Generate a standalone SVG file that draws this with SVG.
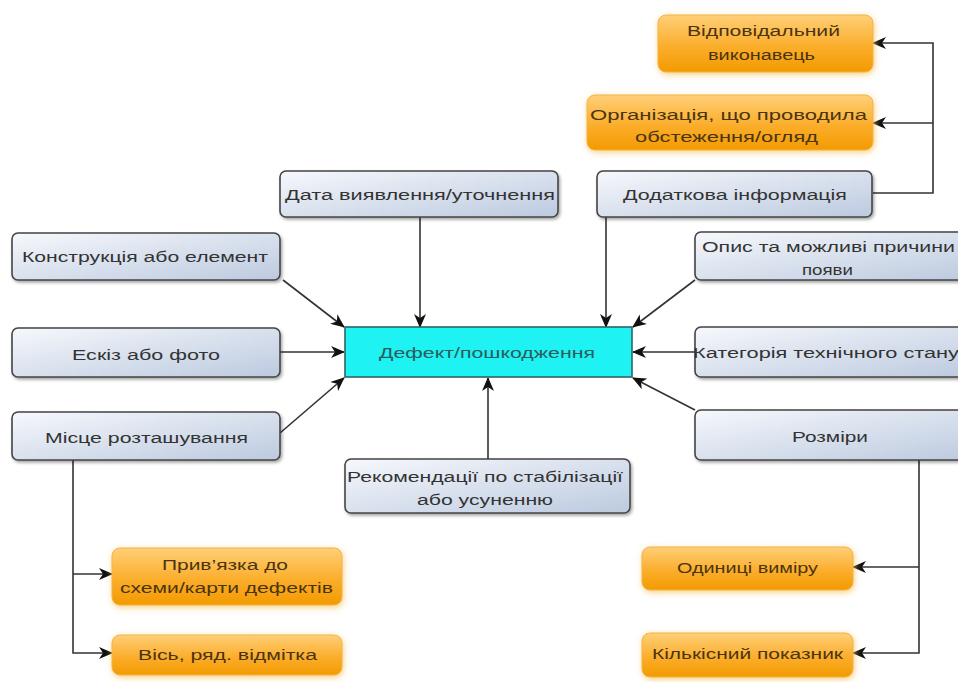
<svg xmlns="http://www.w3.org/2000/svg" width="958" height="682" viewBox="0 0 958 682">
<defs>
<linearGradient id="gb" x1="0" y1="0" x2="1" y2="1">
<stop offset="0" stop-color="#f6f8fc"/>
<stop offset="1" stop-color="#bccadf"/>
</linearGradient>
<linearGradient id="go" x1="0" y1="0" x2="0" y2="1">
<stop offset="0" stop-color="#ffcf78"/>
<stop offset="0.55" stop-color="#fbae2c"/>
<stop offset="1" stop-color="#f39a00"/>
</linearGradient>
<filter id="sh" x="-10%" y="-20%" width="120%" height="150%">
<feDropShadow dx="1.5" dy="2" stdDeviation="1.5" flood-color="#000" flood-opacity="0.35"/>
</filter>
<filter id="glow" x="-10%" y="-30%" width="120%" height="160%">
<feGaussianBlur in="SourceAlpha" stdDeviation="3" result="b"/>
<feFlood flood-color="#f7c560" flood-opacity="0.8"/>
<feComposite in2="b" operator="in" result="g"/>
<feOffset in="g" dx="1" dy="2" result="go"/>
<feMerge><feMergeNode in="go"/><feMergeNode in="SourceGraphic"/></feMerge>
</filter>
<marker id="ar" viewBox="0 0 14 12" refX="13" refY="6" markerWidth="14" markerHeight="12" markerUnits="userSpaceOnUse" orient="auto">
<path d="M0,0 L14,6 L0,12 L4,6 z" fill="#111"/>
</marker>
<style>
.bn{fill:url(#gb);stroke:#444;stroke-width:1.6;filter:url(#sh)}
.on{fill:url(#go);stroke:#f3b24a;stroke-width:1;filter:url(#glow)}
.cn{fill:#1ef2f2;stroke:#2c6464;stroke-width:1.6}
text{font-family:"Liberation Sans",Arial,sans-serif;font-size:15.5px;text-anchor:start}
.tb{fill:#333}
.to{fill:#4a3410}
.tc{fill:#2a5c5c}
.ln{fill:none;stroke:#333;stroke-width:1.6;marker-end:url(#ar)}
.lp{fill:none;stroke:#333;stroke-width:1.6}
</style>
</defs>
<rect width="958" height="682" fill="#fff"/>
<g id="connectors">
<path class="ln" d="M420,217 V327"/>
<path class="ln" d="M606,217 V327"/>
<path class="ln" d="M283,280 L344,327"/>
<path class="ln" d="M280,352 H344"/>
<path class="ln" d="M280,433 L344,378"/>
<path class="ln" d="M488,459 V378"/>
<path class="ln" d="M695,280 L633,327"/>
<path class="ln" d="M695,352 H633"/>
<path class="ln" d="M695,410 L633,378"/>
<path class="ln" d="M873,193 H933 V43 H873"/>
<path class="ln" d="M933,123 H873"/>
<path class="ln" d="M73,460 V653 H112"/>
<path class="ln" d="M73,574 H112"/>
<path class="ln" d="M919,460 V653 H853"/>
<path class="ln" d="M919,567 H853"/>
</g>
<g id="n_center"><rect class="cn" x="345" y="327" width="287" height="50"/><text class="tc" x="379" y="358" textLength="216" lengthAdjust="spacingAndGlyphs">Дефект/пошкодження</text></g>
<g id="n_data"><rect class="bn" x="280" y="171" width="278" height="46" rx="6"/><text class="tb" x="285" y="200" textLength="270" lengthAdjust="spacingAndGlyphs">Дата виявлення/уточнення</text></g>
<g id="n_dodatkova"><rect class="bn" x="597" y="171" width="275" height="46" rx="6"/><text class="tb" x="623" y="200" textLength="224" lengthAdjust="spacingAndGlyphs">Додаткова інформація</text></g>
<g id="n_konstr"><rect class="bn" x="12" y="233" width="268" height="47" rx="6"/><text class="tb" x="22" y="262" textLength="246" lengthAdjust="spacingAndGlyphs">Конструкція або елемент</text></g>
<g id="n_eskiz"><rect class="bn" x="12" y="328" width="268" height="49" rx="6"/><text class="tb" x="72" y="360" textLength="148" lengthAdjust="spacingAndGlyphs">Ескіз або фото</text></g>
<g id="n_misce"><rect class="bn" x="12" y="412" width="268" height="48" rx="6"/><text class="tb" x="45" y="443" textLength="203" lengthAdjust="spacingAndGlyphs">Місце розташування</text></g>
<g id="n_rekom"><rect class="bn" x="345" y="459" width="285" height="54" rx="6"/><text class="tb" x="347" y="482" textLength="276" lengthAdjust="spacingAndGlyphs">Рекомендації по стабілізації</text><text class="tb" x="417" y="505" textLength="136" lengthAdjust="spacingAndGlyphs">або усуненню</text></g>
<g id="n_opys"><rect class="bn" x="695" y="232" width="275" height="48" rx="6"/><text class="tb" x="702" y="252" textLength="253" lengthAdjust="spacingAndGlyphs">Опис та можливі причини</text><text class="tb" x="802" y="275" textLength="51" lengthAdjust="spacingAndGlyphs">появи</text></g>
<g id="n_kateg"><rect class="bn" x="695" y="327" width="275" height="50" rx="6"/><text class="tb" x="693" y="358" textLength="266" lengthAdjust="spacingAndGlyphs">Категорія технічного стану</text></g>
<g id="n_rozmiry"><rect class="bn" x="695" y="410" width="275" height="50" rx="6"/><text class="tb" x="792" y="442" textLength="76" lengthAdjust="spacingAndGlyphs">Розміри</text></g>
<g id="n_vidp"><rect class="on" x="658" y="15" width="215" height="57" rx="8"/><text class="to" x="687" y="36" textLength="153" lengthAdjust="spacingAndGlyphs">Відповідальний</text><text class="to" x="708" y="60" textLength="107" lengthAdjust="spacingAndGlyphs">виконавець</text></g>
<g id="n_org"><rect class="on" x="587" y="95" width="286" height="55" rx="8"/><text class="to" x="590" y="120" textLength="277" lengthAdjust="spacingAndGlyphs">Організація, що проводила</text><text class="to" x="635" y="142" textLength="183" lengthAdjust="spacingAndGlyphs">обстеження/огляд</text></g>
<g id="n_pryv"><rect class="on" x="112" y="548" width="230" height="57" rx="8"/><text class="to" x="162" y="570" textLength="126" lengthAdjust="spacingAndGlyphs">Прив’язка до</text><text class="to" x="120" y="593" textLength="213" lengthAdjust="spacingAndGlyphs">схеми/карти дефектів</text></g>
<g id="n_vis"><rect class="on" x="112" y="635" width="230" height="40" rx="8"/><text class="to" x="138" y="660" textLength="179" lengthAdjust="spacingAndGlyphs">Вісь, ряд. відмітка</text></g>
<g id="n_odyn"><rect class="on" x="642" y="547" width="211" height="43" rx="8"/><text class="to" x="677" y="573" textLength="141" lengthAdjust="spacingAndGlyphs">Одиниці виміру</text></g>
<g id="n_kilk"><rect class="on" x="642" y="633" width="211" height="44" rx="8"/><text class="to" x="652" y="659" textLength="191" lengthAdjust="spacingAndGlyphs">Кількісний показник</text></g>
</svg>
